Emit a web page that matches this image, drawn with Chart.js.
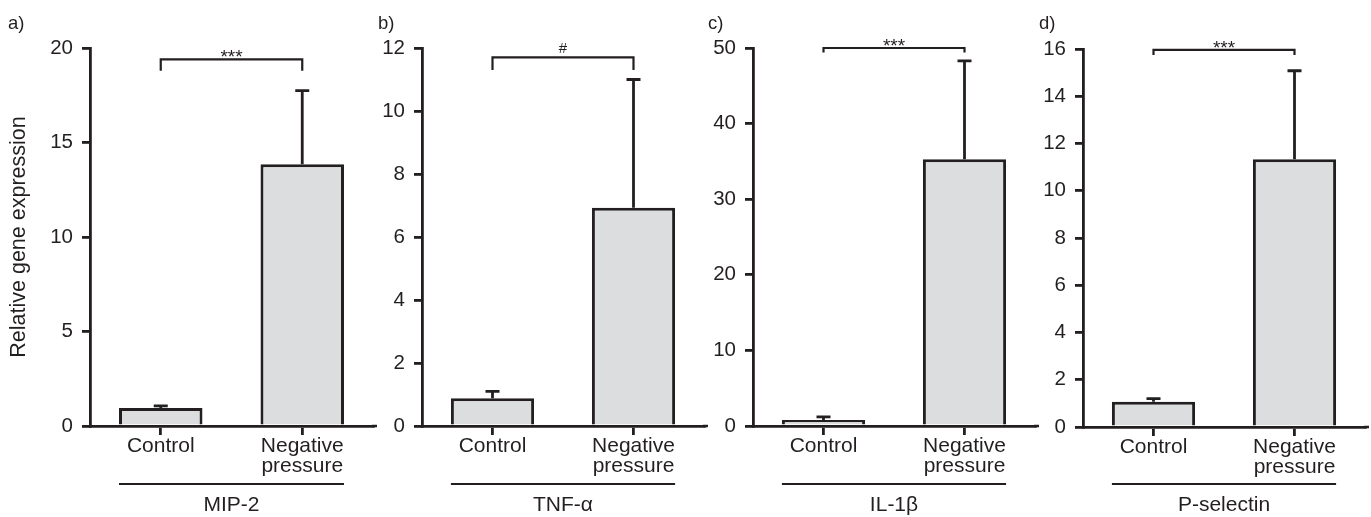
<!DOCTYPE html>
<html lang="en">
<head>
<meta charset="utf-8">
<title>Relative gene expression</title>
<script src="https://cdn.jsdelivr.net/npm/chart.js@4/dist/chart.umd.min.js"></script>
<style>
    html, body { margin: 0; padding: 0; background: #fff; }
    #figura { position: relative; width: 1371px; height: 517px; overflow: hidden;
              font-family: 'Liberation Sans', Arial, Helvetica, sans-serif; color: #231f20; }
    .panel { position: absolute; top: 0; }
    .letra { position: absolute; top: 13px; font-size: 18.5px; line-height: 20px; }
</style>
</head>
<body>
<div id="figura">
    <canvas id="panel-0" class="panel"></canvas>
    <canvas id="panel-1" class="panel"></canvas>
    <canvas id="panel-2" class="panel"></canvas>
    <canvas id="panel-3" class="panel"></canvas>
</div>
<script>
// Datos
const categorias = [['Control'], ['Negative', 'pressure']];
const genes = ['MIP-2', 'TNF-α', 'IL-1β', 'P-selectin'];
const letras = ['a)', 'b)', 'c)', 'd)'];
const ejeMax = [20, 12, 50, 16];
const ejePaso = [5, 2, 10, 2];
const mediaControl = [0.95, 0.88, 0.8, 1.07];
const mediaPresion = [13.85, 6.93, 35.3, 11.33];
const errorControl = [0.11, 0.22, 0.4, 0.13];
const errorPresion = [3.9, 4.07, 13.0, 3.75];
const significancia = ['***', '#', '***', '***'];
const llaveArriba = [19.4, 11.7, 50, 15.96];
const llavePata = [18.8, 11.3, 49.4, 15.75];

// Posicion de cada panel en la pagina
const paneles = [
    { izq: 0,    ancho: 380, ejeY: 90, der: 7, arriba: 48, abajo: 426, letraX: 8 },
    { izq: 380,  ancho: 330, ejeY: 42, der: 6, arriba: 48, abajo: 426, letraX: 378 },
    { izq: 710,  ancho: 330, ejeY: 43, der: 5, arriba: 48, abajo: 426, letraX: 708 },
    { izq: 1040, ancho: 331, ejeY: 43, der: 6, arriba: 49, abajo: 427, letraX: 1039 }
];

const ALTO = 517;
const tinta = '#231f20';
const relleno = '#dcdddf';
const fuente = "'Liberation Sans', Arial, Helvetica, sans-serif";

// Barras de error, llave de significancia y etiqueta del gen
const decoracion = {
    id: 'decoracion',
    afterDatasetsDraw(chart, args, opts) {
        const i = opts.indice;
        const { ctx, chartArea } = chart;
        const x = chart.scales.x;
        const y = chart.scales.y;
        const barras = chart.getDatasetMeta(0).data;
        const medias = [mediaControl[i], mediaPresion[i]];
        const errores = [errorControl[i], errorPresion[i]];

        ctx.save();
        ctx.strokeStyle = tinta;
        ctx.fillStyle = tinta;

        // prolongacion del eje x
        ctx.lineWidth = 2.5;
        ctx.beginPath();
        ctx.moveTo(chartArea.right - 1, chartArea.bottom);
        ctx.lineTo(chartArea.right + 4, chartArea.bottom);
        ctx.stroke();

        // barras de error (solo hacia arriba)
        ctx.lineWidth = 2.8;
        barras.forEach((barra, j) => {
            const yTope = y.getPixelForValue(medias[j] + errores[j]);
            ctx.beginPath();
            ctx.moveTo(barra.x, barra.y);
            ctx.lineTo(barra.x, yTope);
            ctx.moveTo(barra.x - 7, yTope);
            ctx.lineTo(barra.x + 7, yTope);
            ctx.stroke();
        });

        // llave
        const x1 = x.getPixelForValue(0);
        const x2 = x.getPixelForValue(1);
        const yLlave = y.getPixelForValue(llaveArriba[i]);
        const yPata = y.getPixelForValue(llavePata[i]);
        ctx.lineWidth = 2.2;
        ctx.beginPath();
        ctx.moveTo(x1, yPata);
        ctx.lineTo(x1, yLlave);
        ctx.lineTo(x2, yLlave);
        ctx.lineTo(x2, yPata);
        ctx.stroke();

        const marca = significancia[i];
        ctx.textAlign = 'center';
        ctx.textBaseline = 'alphabetic';
        if (marca === '#') {
            ctx.font = `15px ${fuente}`;
            ctx.fillText(marca, (x1 + x2) / 2, yLlave - 4.5);
        } else {
            ctx.font = `19px ${fuente}`;
            ctx.fillText(marca, (x1 + x2) / 2, yLlave + 4);
        }

        // linea de grupo y nombre del gen
        const izq = barras[0].x - barras[0].width / 2;
        const der = barras[1].x + barras[1].width / 2;
        ctx.lineWidth = 2.2;
        ctx.beginPath();
        ctx.moveTo(izq, 484);
        ctx.lineTo(der, 484);
        ctx.stroke();

        ctx.font = `21px ${fuente}`;
        ctx.fillText(genes[i], (x1 + x2) / 2, 511);
        ctx.restore();
    }
};

function crearPanel(i) {
    const p = paneles[i];
    const canvas = document.getElementById(`panel-${i}`);
    canvas.width = p.ancho;
    canvas.height = ALTO;
    canvas.style.left = p.izq + 'px';
    canvas.style.width = p.ancho + 'px';
    canvas.style.height = ALTO + 'px';

    const letra = document.createElement('div');
    letra.className = 'letra';
    letra.style.left = p.letraX + 'px';
    letra.textContent = letras[i];
    document.getElementById('figura').appendChild(letra);

    return new Chart(canvas.getContext('2d'), {
        type: 'bar',
        data: {
            labels: categorias,
            datasets: [{
                data: [mediaControl[i], mediaPresion[i]],
                backgroundColor: relleno,
                borderColor: tinta,
                borderWidth: 3,
                borderSkipped: 'start',
                barPercentage: 0.59,
                categoryPercentage: 1
            }]
        },
        options: {
            responsive: false,
            animation: false,
            devicePixelRatio: 1,
            layout: { padding: { top: p.arriba, right: p.der, bottom: 0, left: 0 } },
            plugins: {
                legend: { display: false },
                tooltip: { enabled: false },
                decoracion: { indice: i }
            },
            scales: {
                x: {
                    afterFit: (escala) => { escala.height = ALTO - p.abajo; },
                    grid: { offset: false, drawOnChartArea: false, tickLength: 9, color: tinta, lineWidth: 2.8 },
                    border: { color: tinta, width: 2.8 },
                    ticks: {
                        color: tinta,
                        padding: 1,
                        maxRotation: 0,
                        autoSkip: false,
                        font: { family: fuente, size: 21, lineHeight: 0.96 }
                    }
                },
                y: {
                    min: 0,
                    max: ejeMax[i],
                    afterFit: (escala) => { escala.width = p.ejeY; },
                    grid: { drawOnChartArea: false, tickLength: 8, color: tinta, lineWidth: 2.8 },
                    border: { color: tinta, width: 2.8 },
                    ticks: {
                        stepSize: ejePaso[i],
                        color: tinta,
                        padding: 9,
                        font: { family: fuente, size: 20.5 }
                    },
                    title: {
                        display: i === 0,
                        text: 'Relative gene expression',
                        color: tinta,
                        padding: { top: 6, bottom: 0 },
                        font: { family: fuente, size: 21.5 }
                    }
                }
            }
        },
        plugins: [decoracion]
    });
}

genes.forEach((gen, i) => crearPanel(i));
</script>
</body>
</html>
